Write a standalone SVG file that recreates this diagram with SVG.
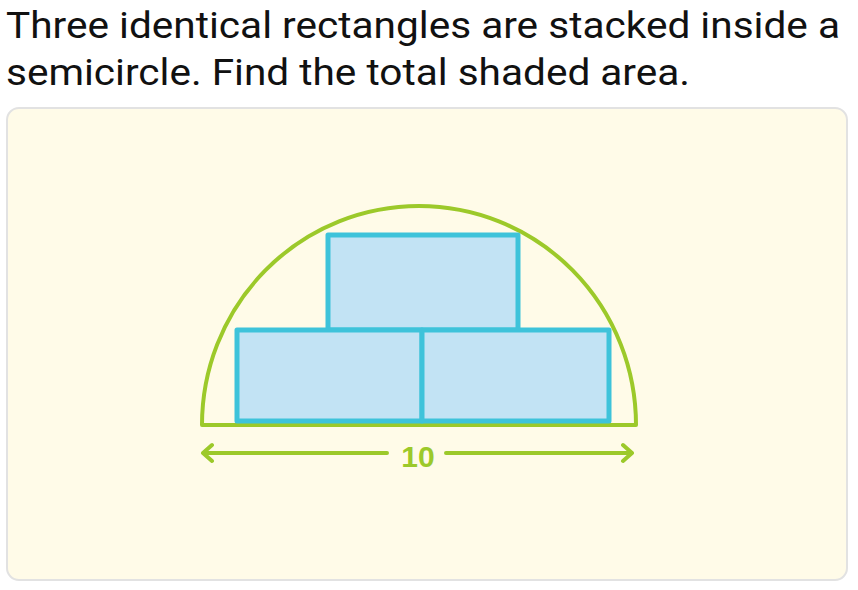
<svg xmlns="http://www.w3.org/2000/svg" width="858" height="590" viewBox="0 0 858 590">
<defs>
<style>
.title{font-family:Roboto,"Noto Sans",sans-serif;font-size:36px;fill:#111}
.green{fill:none;stroke:#9cc92a;stroke-width:4;stroke-linecap:round;stroke-linejoin:round}
.rect{fill:#c2e3f4;stroke:#3ec3da;stroke-width:5;stroke-linejoin:round}
.lbl{font-family:"Liberation Sans",sans-serif;font-size:30px;fill:#9cc92a;font-weight:bold}
</style>
</defs>
<rect width="858" height="590" fill="#ffffff"/>
<text class="title" x="6" y="38" textLength="834" lengthAdjust="spacingAndGlyphs">Three identical rectangles are stacked inside a</text>
<text class="title" x="6" y="85" textLength="684" lengthAdjust="spacingAndGlyphs">semicircle. Find the total shaded area.</text>
<rect id="card" x="7" y="108" width="840" height="472" rx="12" fill="#fffbe8" stroke="#e2e2e2" stroke-width="2"/>
<g id="semicircle">
<path class="green" d="M202 425 A217 219 0 0 1 636 425 Z"/>
</g>
<g id="rect-top">
<rect class="rect" x="328" y="235" width="190" height="95"/>
</g>
<g id="rect-left">
<rect class="rect" x="237" y="330" width="185" height="91"/>
</g>
<g id="rect-right">
<rect class="rect" x="422" y="330" width="187" height="91"/>
</g>
<g id="connectors">
<path class="green" d="M203 453 L387 453 M212 445 L203 453 L212 461"/>
<path class="green" d="M446 453 L632 453 M623 445 L632 453 L623 461"/>
</g>
<g id="label">
<text class="lbl" x="418" y="467" text-anchor="middle">10</text>
</g>
</svg>
